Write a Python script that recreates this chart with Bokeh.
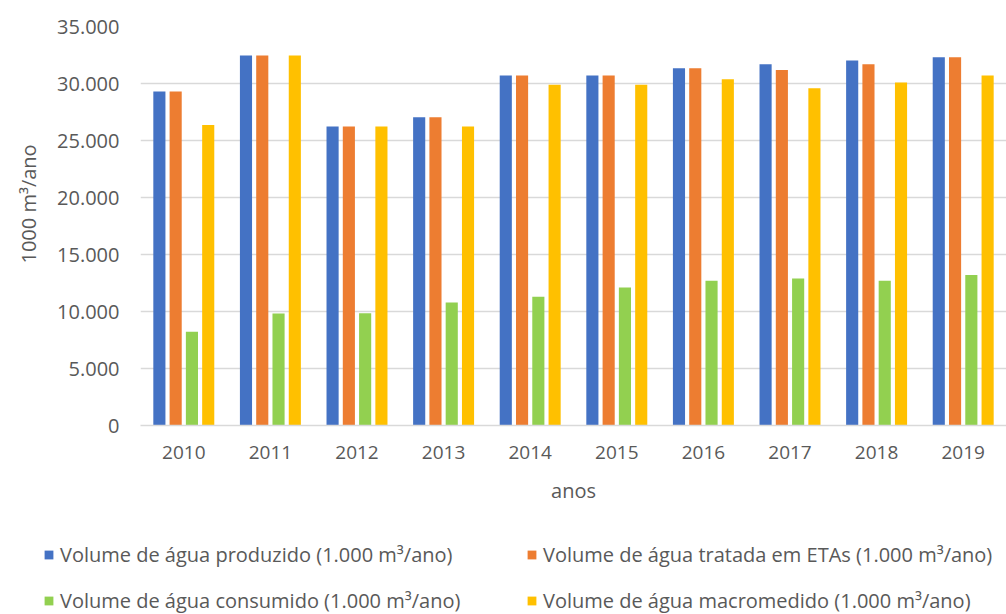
from bokeh.plotting import figure
from bokeh.models import ColumnDataSource, FactorRange, Range1d, Legend, LegendItem, FixedTicker, Title
from bokeh.transform import dodge
from bokeh.embed import file_html
from bokeh.resources import INLINE

# Annual water volumes (1.000 m³/ano)
anos = ["2010", "2011", "2012", "2013", "2014", "2015", "2016", "2017", "2018", "2019"]
produzido = [29290, 32450, 26220, 27040, 30700, 30700, 31340, 31690, 32010, 32310]
tratada = [29290, 32450, 26220, 27040, 30700, 30700, 31340, 31190, 31690, 32310]
consumido = [8220, 9830, 9850, 10800, 11290, 12110, 12700, 12900, 12700, 13200]
macromedido = [26370, 32450, 26220, 26220, 29900, 29900, 30380, 29590, 30080, 30700]

series_labels = [
    "Volume de água produzido (1.000 m³/ano)",
    "Volume de água tratada em ETAs (1.000 m³/ano)",
    "Volume de água consumido (1.000 m³/ano)",
    "Volume de água macromedido (1.000 m³/ano)",
]
y_ticks = [0, 5000, 10000, 15000, 20000, 25000, 30000, 35000]
y_tick_labels = ["0", "5.000", "10.000", "15.000", "20.000", "25.000", "30.000", "35.000"]

colors = ["#4472C4", "#ED7D31", "#92D050", "#FFC000"]
FONT = "Open Sans"
GREY = "#595959"

source = ColumnDataSource(dict(
    anos=anos, produzido=produzido, tratada=tratada,
    consumido=consumido, macromedido=macromedido,
))

p = figure(
    width=1006, height=520,
    x_range=FactorRange(*anos, range_padding=0),
    y_range=Range1d(0, 35000),
    output_backend="svg", toolbar_location=None,
    min_border_left=140, min_border_right=0,
    min_border_top=26, min_border_bottom=95,
)
p.outline_line_color = None

offsets = [-0.282, -0.094, 0.094, 0.282]
fields = ["produzido", "tratada", "consumido", "macromedido"]
for field, off, col in zip(fields, offsets, colors):
    p.vbar(x=dodge("anos", off, range=p.x_range), top=field, width=0.14,
           source=source, fill_color=col, line_color=None)

# grid and axes
p.xgrid.grid_line_color = None
p.ygrid.grid_line_color = "#d9d9d9"
p.ygrid.grid_line_width = 1.3

p.yaxis.ticker = FixedTicker(ticks=y_ticks)
p.yaxis.major_label_overrides = dict(zip(y_ticks, y_tick_labels))
p.yaxis.axis_line_color = None
p.yaxis.major_tick_line_color = None
p.yaxis.minor_tick_line_color = None
p.yaxis.major_label_standoff = 15
p.yaxis.major_label_text_font_size = "20px"

p.xaxis.axis_line_color = "#d9d9d9"
p.xaxis.axis_line_width = 1.3
p.xaxis.major_tick_line_color = None
p.xaxis.minor_tick_line_color = None
p.xaxis.major_label_standoff = 14
p.xaxis.major_label_text_font_size = "19px"
p.xaxis.axis_label = "anos"
p.xaxis.axis_label_standoff = 15

for ax in (p.xaxis[0], p.yaxis[0]):
    ax.major_label_text_font = FONT
    ax.major_label_text_color = GREY
    ax.axis_label_text_font = FONT
    ax.axis_label_text_font_size = "20px"
    ax.axis_label_text_font_style = "normal"
    ax.axis_label_text_color = GREY

# vertical axis title, set a little above the middle of the frame
ytitle = Title(text="1000 m³/ano", align="left", offset=162,
               text_font=FONT, text_font_size="20px", text_font_style="normal",
               text_color=GREY, standoff=25)
p.add_layout(ytitle, "left")

# legend strip under the chart: two columns of two entries
pleg = figure(width=1006, height=94, x_range=Range1d(0, 1), y_range=Range1d(0, 1),
              output_backend="svg", toolbar_location=None,
              x_axis_location=None, y_axis_location=None,
              min_border=0, min_border_left=0, min_border_right=0)
pleg.outline_line_color = None
pleg.xgrid.grid_line_color = None
pleg.ygrid.grid_line_color = None

# swatch renderers for the legend entries (kept outside the visible range)
swatches = [pleg.vbar(x=[-5], top=[-5], bottom=[-6], width=0.1, fill_color=col, line_color=None)
            for col in colors]

for idx, xloc in ((0, 43), (1, 526)):
    leg = Legend(items=[LegendItem(label=series_labels[idx], renderers=[swatches[idx]]),
                        LegendItem(label=series_labels[idx + 2], renderers=[swatches[idx + 2]])],
                 location=(xloc, 0), orientation="vertical")
    leg.border_line_color = None
    leg.background_fill_alpha = 0
    leg.padding = 0
    leg.margin = 0
    leg.spacing = 19
    leg.glyph_width = 11
    leg.glyph_height = 11
    leg.label_standoff = 6
    leg.label_height = 24
    leg.label_text_font = FONT
    leg.label_text_font_size = "20px"
    leg.label_text_color = GREY
    pleg.add_layout(leg, "center")

open("out.html", "w").write(file_html([p, pleg], INLINE))
